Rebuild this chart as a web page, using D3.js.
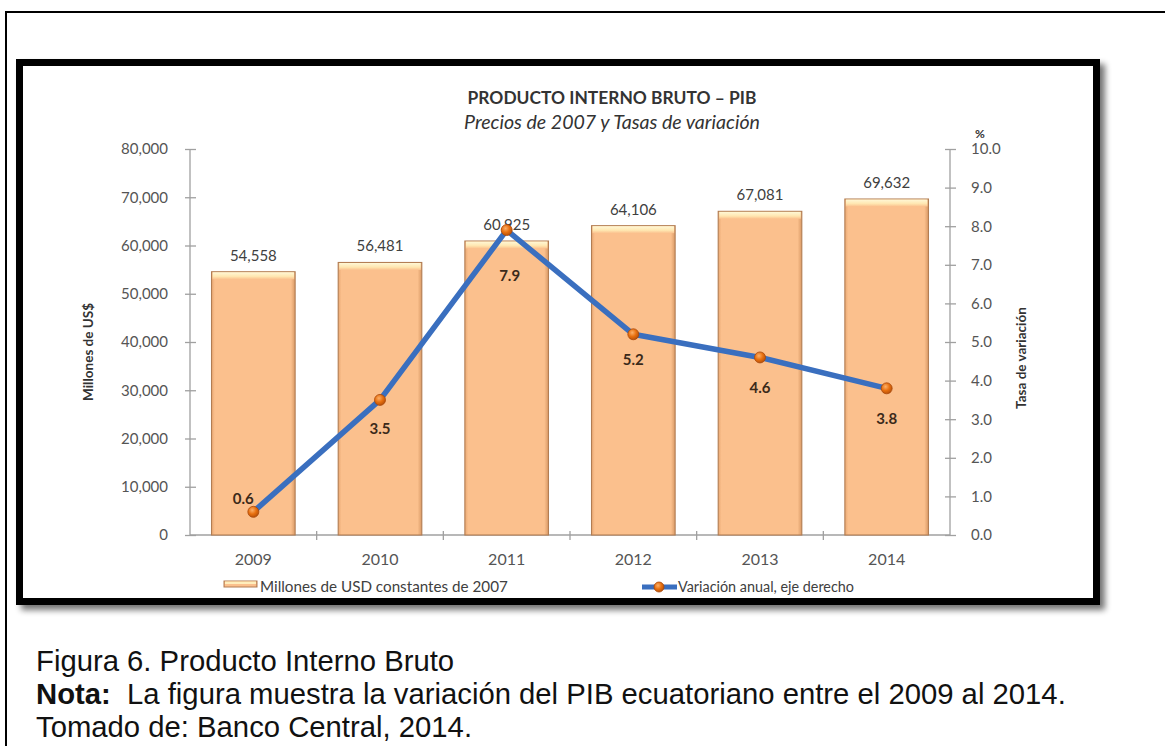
<!DOCTYPE html>
<html>
<head>
<meta charset="utf-8">
<script src="https://cdn.jsdelivr.net/npm/d3@7"></script>
<style>
  html, body { margin: 0; padding: 0; background: #ffffff; }
  svg { display: block; }
</style>
</head>
<body>
<svg id="chart" width="1165" height="746"></svg>
<script>
// Datos: PIB del Ecuador (precios de 2007) y tasa de variación anual
const years = ["2009", "2010", "2011", "2012", "2013", "2014"];
const pib = [54558, 56481, 60925, 64106, 67081, 69632];
const variacion = [0.6, 3.5, 7.9, 5.2, 4.6, 3.8];
const leftTicks = [0, 10000, 20000, 30000, 40000, 50000, 60000, 70000, 80000];
const rightTicks = [0, 1, 2, 3, 4, 5, 6, 7, 8, 9, 10];
// desplazamiento (x, y) de cada etiqueta de la línea respecto a su punto
const lineLabelOffsets = [[-10, -13], [0, 29], [3, 46], [0, 26], [0, 31], [0, 31]];

const svg = d3.select("#chart");
const defs = svg.append("defs");

const chartFont = "Lato, 'Open Sans', sans-serif";
const captionFont = "'Liberation Sans', Arial, sans-serif";

// ajusta el tamaño de letra para que el texto ocupe el ancho indicado
function fitWidth(sel, width) {
  const cur = sel.node().getComputedTextLength();
  const fs = parseFloat(sel.attr("font-size"));
  const size = fs * width / cur;
  sel.attr("font-size", size.toFixed(2));
  return size;
}

// Sombra del marco
const sh = defs.append("filter").attr("id", "frameShadow")
  .attr("x", "-5%").attr("y", "-5%").attr("width", "115%").attr("height", "115%");
sh.append("feGaussianBlur").attr("in", "SourceAlpha").attr("stdDeviation", 3).attr("result", "b");
sh.append("feOffset").attr("in", "b").attr("dx", 5).attr("dy", 5).attr("result", "o");
sh.append("feComponentTransfer").attr("in", "o").attr("result", "oa")
  .append("feFuncA").attr("type", "linear").attr("slope", 0.55);
const shm = sh.append("feMerge");
shm.append("feMergeNode").attr("in", "oa");
shm.append("feMergeNode").attr("in", "SourceGraphic");

// Degradados de las barras
const capGrad = defs.append("linearGradient").attr("id", "capGrad")
  .attr("x1", 0).attr("y1", 0).attr("x2", 0).attr("y2", 1);
capGrad.append("stop").attr("offset", "0%").attr("stop-color", "#fff8d6");
capGrad.append("stop").attr("offset", "60%").attr("stop-color", "#ffe6b0");
capGrad.append("stop").attr("offset", "100%").attr("stop-color", "#fbc18e");

const sideGrad = defs.append("linearGradient").attr("id", "sideGrad")
  .attr("x1", 0).attr("y1", 0).attr("x2", 1).attr("y2", 0);
sideGrad.append("stop").attr("offset", "0%").attr("stop-color", "#e9a873");
sideGrad.append("stop").attr("offset", "4%").attr("stop-color", "#fbc08d");
sideGrad.append("stop").attr("offset", "95%").attr("stop-color", "#fbc08d");
sideGrad.append("stop").attr("offset", "100%").attr("stop-color", "#d99a66");

const dotGrad = defs.append("radialGradient").attr("id", "dotGrad")
  .attr("cx", "40%").attr("cy", "35%").attr("r", "65%");
dotGrad.append("stop").attr("offset", "0%").attr("stop-color", "#fbb06a");
dotGrad.append("stop").attr("offset", "55%").attr("stop-color", "#e8700f");
dotGrad.append("stop").attr("offset", "100%").attr("stop-color", "#b9520a");

// Borde exterior de la página
svg.append("rect")
  .attr("x", 6).attr("y", 12).attr("width", 1200).attr("height", 800)
  .attr("fill", "none").attr("stroke", "#000").attr("stroke-width", 2);

// Marco del gráfico
svg.append("rect")
  .attr("x", 19.5).attr("y", 62.5).attr("width", 1077).attr("height", 539)
  .attr("fill", "#fff").attr("stroke", "#000").attr("stroke-width", 7)
  .attr("filter", "url(#frameShadow)");

// Área de trazado
const plot = { left: 190, right: 950, top: 149, bottom: 535 };

const x = d3.scaleBand().domain(years)
  .range([plot.left, plot.right]).paddingInner(0.34).paddingOuter(0.17);
const yL = d3.scaleLinear().domain([0, 80000]).range([plot.bottom, plot.top]);
const yR = d3.scaleLinear().domain([0, 10]).range([plot.bottom, plot.top]);

// Títulos
fitWidth(svg.append("text")
  .attr("x", 612).attr("y", 104).attr("text-anchor", "middle")
  .attr("font-family", chartFont).attr("font-weight", "bold").attr("font-size", 16)
  .attr("fill", "#333").text("PRODUCTO INTERNO BRUTO – PIB"), 289);
fitWidth(svg.append("text")
  .attr("x", 612).attr("y", 129).attr("text-anchor", "middle")
  .attr("font-family", chartFont).attr("font-style", "italic").attr("font-size", 16)
  .attr("fill", "#333").text("Precios de 2007 y Tasas de variación"), 296);

// Ejes
const axisColor = "#a0a0a0";
const tickColor = "#555555";

const gL = svg.append("g").attr("transform", `translate(${plot.left},0)`)
  .call(d3.axisLeft(yL).tickValues(leftTicks).tickSize(5).tickPadding(17)
    .tickFormat(d3.format(",")));
const gR = svg.append("g").attr("transform", `translate(${plot.right},0)`)
  .call(d3.axisRight(yR).tickValues(rightTicks).tickSize(5).tickPadding(16)
    .tickFormat(d3.format(".1f")));
const gX = svg.append("g").attr("transform", `translate(0,${plot.bottom})`)
  .call(d3.axisBottom(x).tickSize(0).tickPadding(19));

[gL, gR, gX].forEach(g => {
  g.select(".domain").attr("stroke", axisColor).attr("stroke-width", 1.3);
  g.selectAll(".tick line").attr("stroke", axisColor).attr("stroke-width", 1.3);
  g.selectAll(".tick text").attr("font-family", chartFont).attr("font-size", 15)
    .attr("fill", tickColor);
});
gX.selectAll(".tick text").attr("font-size", 16);
gL.selectAll(".tick line").attr("x2", 6).attr("x1", -5);
gR.selectAll(".tick line").attr("x1", -5).attr("x2", 6);
gL.select(".domain").attr("d", `M0,${plot.bottom}V${plot.top}`);
gR.select(".domain").attr("d", `M0,${plot.bottom}V${plot.top}`);
gX.select(".domain").attr("d", `M${plot.left},0H${plot.right}`);

// Marcas entre categorías
const bounds = d3.range(1, years.length).map(i => plot.left + i * (plot.right - plot.left) / years.length);
gX.selectAll(".sep").data(bounds).join("line")
  .attr("x1", d => d).attr("x2", d => d).attr("y1", -4).attr("y2", 5)
  .attr("stroke", axisColor).attr("stroke-width", 1.3);

// Títulos de eje
svg.append("text")
  .attr("transform", "translate(93,352) rotate(-90)").attr("text-anchor", "middle")
  .attr("font-family", chartFont).attr("font-weight", "bold").attr("font-size", 13.5)
  .attr("fill", "#333").text("Millones de US$");
svg.append("text")
  .attr("transform", "translate(1026,358) rotate(-90)").attr("text-anchor", "middle")
  .attr("font-family", chartFont).attr("font-weight", "bold").attr("font-size", 13.5)
  .attr("fill", "#333").text("Tasa de variación");
svg.append("text")
  .attr("x", 980).attr("y", 138).attr("text-anchor", "middle")
  .attr("font-family", chartFont).attr("font-weight", "bold").attr("font-size", 12)
  .attr("fill", "#333").text("%");

// Barras
const bars = svg.append("g");
years.forEach((yr, i) => {
  const bx = x(yr), bw = x.bandwidth(), top = yL(pib[i]);
  bars.append("rect")
    .attr("x", bx).attr("y", top).attr("width", bw).attr("height", plot.bottom - top)
    .attr("fill", "url(#sideGrad)").attr("stroke", "#b27d52").attr("stroke-width", 1.1);
  bars.append("rect")
    .attr("x", bx + 1).attr("y", top + 0.5).attr("width", bw - 2).attr("height", 7)
    .attr("fill", "url(#capGrad)");
  bars.append("text")
    .attr("x", bx + bw / 2).attr("y", top - 11).attr("text-anchor", "middle")
    .attr("font-family", chartFont).attr("font-size", 15).attr("fill", "#404040")
    .text(d3.format(",")(pib[i]));
});

// Línea de variación anual
const cx = yr => x(yr) + x.bandwidth() / 2;
const line = d3.line().x((d, i) => cx(years[i])).y(d => yR(d));
svg.append("path").datum(variacion)
  .attr("d", line).attr("fill", "none")
  .attr("stroke", "#3a6fbf").attr("stroke-width", 5.5)
  .attr("stroke-linejoin", "round").attr("stroke-linecap", "round");
svg.append("g").selectAll("circle").data(variacion).join("circle")
  .attr("cx", (d, i) => cx(years[i])).attr("cy", d => yR(d)).attr("r", 5.5)
  .attr("fill", "url(#dotGrad)").attr("stroke", "#a9480a").attr("stroke-width", 0.8);
svg.append("g").selectAll("text").data(variacion).join("text")
  .attr("x", (d, i) => cx(years[i]) + lineLabelOffsets[i][0])
  .attr("y", (d, i) => yR(d) + lineLabelOffsets[i][1] + 5)
  .attr("text-anchor", "middle")
  .attr("font-family", chartFont).attr("font-weight", "bold").attr("font-size", 15)
  .attr("fill", "#3b2a1a").text(d => d3.format(".1f")(d));

// Leyenda
const leg = svg.append("g").attr("font-family", chartFont).attr("font-size", 15).attr("fill", "#404040");
leg.append("rect").attr("x", 224).attr("y", 581).attr("width", 33).attr("height", 6)
  .attr("fill", "url(#sideGrad)").attr("stroke", "#b27d52").attr("stroke-width", 1);
leg.append("rect").attr("x", 225).attr("y", 581.5).attr("width", 31).attr("height", 2.5)
  .attr("fill", "#ffeebc");
fitWidth(leg.append("text").attr("x", 260).attr("y", 592).attr("font-size", 15)
  .text("Millones de USD constantes de 2007"), 248);
leg.append("line").attr("x1", 642).attr("x2", 677).attr("y1", 587).attr("y2", 587)
  .attr("stroke", "#3a6fbf").attr("stroke-width", 5);
leg.append("circle").attr("cx", 659).attr("cy", 587).attr("r", 5)
  .attr("fill", "url(#dotGrad)").attr("stroke", "#a9480a").attr("stroke-width", 0.8);
fitWidth(leg.append("text").attr("x", 678).attr("y", 592).attr("font-size", 15)
  .text("Variación anual, eje derecho"), 176);

// Pie de figura (Arial, mismo cuerpo en las tres líneas)
const cap = svg.append("g").attr("font-family", captionFont).attr("fill", "#111");
const nota = cap.append("text").attr("x", 36).attr("y", 704).attr("font-size", 28)
  .style("white-space", "pre");
nota.append("tspan").attr("font-weight", "bold").text("Nota:");
nota.append("tspan").text("  La figura muestra la variación del PIB ecuatoriano entre el 2009 al 2014.");
const capSize = fitWidth(nota, 1030);
cap.append("text").attr("x", 36).attr("y", 671).attr("font-size", capSize.toFixed(2))
  .text("Figura 6. Producto Interno Bruto");
cap.append("text").attr("x", 36).attr("y", 737).attr("font-size", capSize.toFixed(2))
  .text("Tomado de: Banco Central, 2014.");
</script>
</body>
</html>
